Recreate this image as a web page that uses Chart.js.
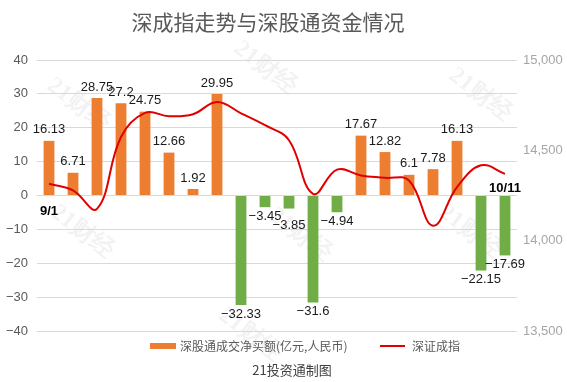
<!DOCTYPE html>
<html><head><meta charset="utf-8">
<script src="https://cdn.jsdelivr.net/npm/chart.js@4/dist/chart.umd.min.js"></script>
<style>html,body{margin:0;padding:0;background:#fff}canvas{display:block}</style>
</head><body><canvas id="c" width="567" height="382" style="width:567px;height:382px"></canvas>
<script>
const categories = ['9/1','9/2','9/3','9/6','9/7','9/8','9/9','9/10','9/13','9/14','9/15','9/16','9/17','9/23','9/24','9/27','9/28','9/29','10/8','10/11'];
const netBuy = [16.13,6.71,28.75,27.2,24.75,12.66,1.92,29.95,-32.33,-3.45,-3.85,-31.6,-4.94,17.67,12.82,6.1,7.78,16.13,-22.15,-17.69];
const szIndex = [14315,14278,14176,14574,14707,14689,14700,14768,14705,14639,14556,14259,14393,14361,14348,14333,14083,14296,14417,14370];
const leftTicks = [-40,-30,-20,-10,0,10,20,30,40];
const rightTicks = [13500,14000,14500,15000];
const titleText = '深成指走势与深股通资金情况';
const barLabel = '深股通成交净买额(亿元,人民币)';
const lineLabel = '深证成指';
const sourceText = '21投资通制图';
const watermark = '21财经';

const ORANGE = '#ED7D31', GREEN = '#70AD47', RED = '#E00000';
const fmt = v => String(v).replace('-', '\u2212');

const extras = {
  id: 'extras',
  beforeDraw(chart) {
    const ctx = chart.ctx;
    ctx.save();
    ctx.fillStyle = '#fff';
    ctx.fillRect(0, 0, chart.width, chart.height);
    ctx.fillStyle = 'rgba(0,0,0,0.05)';
    ctx.font = 'bold 24px "Liberation Serif", serif';
    const spots = [[78,105],[265,68],[480,95],[82,232],[300,235],[470,232],[250,335]];
    spots.forEach(([x,y]) => {
      ctx.save(); ctx.translate(x,y); ctx.rotate(38*Math.PI/180);
      ctx.textAlign='center'; ctx.textBaseline='middle';
      ctx.fillText(watermark,0,0); ctx.restore();
    });
    ctx.restore();
  },
  afterDatasetsDraw(chart) {
    const ctx = chart.ctx;
    const y0 = chart.scales.y.getPixelForValue(0);
    const meta = chart.getDatasetMeta(0);
    ctx.save();
    ctx.font = '13px "Liberation Sans", Arial, sans-serif';
    ctx.fillStyle = '#1a1a1a';
    ctx.textAlign = 'center';
    ctx.textBaseline = 'middle';
    const H = 12;
    let prev = null;
    meta.data.forEach((bar, i) => {
      const v = netBuy[i];
      const txt = fmt(v);
      const w = ctx.measureText(txt).width;
      let y = v >= 0 ? bar.y - 11 : bar.y + 9;
      if (prev && v < 0 && prev.neg) {
        const overlapX = (prev.x + prev.w / 2) - (bar.x - w / 2);
        if (overlapX > 0 && Math.abs(y - prev.y) < H) y = prev.y + H - 3;
      }
      ctx.fillText(txt, bar.x, y);
      prev = { x: bar.x, y, w, neg: v < 0 };
    });
    ctx.font = 'bold 13px "Liberation Sans", Arial, sans-serif';
    ctx.fillStyle = '#000';
    const first = meta.data[0], last = meta.data[meta.data.length-1];
    ctx.fillText(categories[0], first.x, y0 + 16);
    ctx.fillText(categories[categories.length-1], last.x, y0 - 7);
    ctx.restore();
  },
  afterDraw(chart) {
    const ctx = chart.ctx;
    ctx.save();
    ctx.textBaseline = 'middle';
    ctx.fillStyle = '#595959';
    ctx.textAlign = 'center';
    ctx.font = '21px "Noto Sans CJK SC", sans-serif';
    ctx.fillText(titleText, 268, 22);
    ctx.fillStyle = ORANGE;
    ctx.fillRect(150, 343, 26, 6);
    ctx.fillStyle = '#595959';
    ctx.textAlign = 'left';
    ctx.font = '12px "Noto Sans CJK SC", sans-serif';
    ctx.fillText(barLabel, 180, 346);
    ctx.strokeStyle = RED; ctx.lineWidth = 2;
    ctx.beginPath(); ctx.moveTo(380, 346); ctx.lineTo(405, 346); ctx.stroke();
    ctx.fillText(lineLabel, 412, 346);
    ctx.textAlign = 'center';
    ctx.fillStyle = '#404040';
    ctx.font = '13px "Noto Sans CJK SC", sans-serif';
    ctx.fillText(sourceText, 292, 370);
    ctx.restore();
  }
};

new Chart(document.getElementById('c'), {
  data: {
    labels: categories,
    datasets: [
      { type: 'bar', label: barLabel, data: netBuy, yAxisID: 'y', order: 1,
        backgroundColor: c => (c.raw < 0 ? GREEN : ORANGE),
        categoryPercentage: 1, barPercentage: 0.45 },
      { type: 'line', label: lineLabel, data: szIndex, yAxisID: 'y1', order: 0,
        borderColor: RED, borderWidth: 2, pointRadius: 0, tension: 0.4, fill: false }
    ]
  },
  options: {
    responsive: false, maintainAspectRatio: false, animation: false, devicePixelRatio: 1,
    layout: { padding: { top: 60, bottom: 51, left: 0, right: 0 } },
    plugins: { legend: { display: false }, title: { display: false }, tooltip: { enabled: false } },
    scales: {
      x: { display: false, offset: true },
      y: {
        position: 'left', min: -40, max: 40,
        afterBuildTicks: s => { s.ticks = leftTicks.map(v => ({ value: v })); },
        afterFit: s => { s.width = 37; },
        border: { display: false },
        grid: { color: '#d9d9d9', drawTicks: false, lineWidth: 1 },
        ticks: { padding: 9, color: '#595959', font: { size: 13, family: '"Liberation Sans", Arial, sans-serif' }, callback: v => fmt(v) }
      },
      y1: {
        position: 'right', min: 13500, max: 15000,
        afterBuildTicks: s => { s.ticks = rightTicks.map(v => ({ value: v })); },
        afterFit: s => { s.width = 50; },
        border: { display: false },
        grid: { display: false, drawTicks: false },
        ticks: { padding: 6, color: '#a6a6a6', font: { size: 13, family: '"Liberation Sans", Arial, sans-serif' } }
      }
    }
  },
  plugins: [extras]
});
</script>
</body></html>
